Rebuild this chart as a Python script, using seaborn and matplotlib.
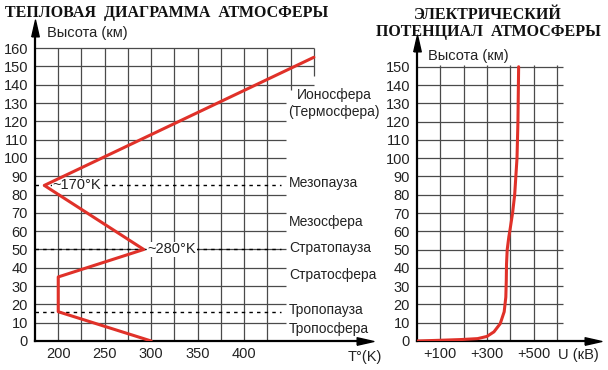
import numpy as np
import pandas as pd
import seaborn as sns
import matplotlib.pyplot as plt

# температурный профиль (К, км)
temp_k = [300, 200, 200, 292, 185, 475]
temp_h = [0, 16, 35, 50, 85, 155]

# электрический потенциал (кВ, км)
pot_h = [0, 0.4, 0.8, 1.3, 2.5, 5, 9.5, 16, 24, 33, 42, 50, 57, 60, 70, 80, 90, 100, 120, 150]
pot_u = [0, 100, 190, 260, 300, 330, 357, 374, 381, 383, 384, 387, 394, 398, 410, 419, 424, 429, 433, 436]

temp_ticks = [200, 250, 300, 350, 400]
temp_h_ticks = list(range(0, 161, 10))
pot_ticks = [100, 300, 500]
pot_tick_labels = ["+100", "+300", "+500"]
pot_h_ticks = list(range(0, 151, 10))

# слои атмосферы: (название, высота)
layers = [("Мезопауза", 86.3), ("Мезосфера", 65), ("Стратопауза", 50.8),
          ("Стратосфера", 36), ("Тропопауза", 17), ("Тропосфера", 6.6)]
pauses = [85, 50, 16]

sns.set_theme(style="white")
plt.rcParams["font.family"] = ["Liberation Sans", "DejaVu Sans"]

W, H = 608, 370
fig = plt.figure(figsize=(W / 100, H / 100), dpi=100)

grid_kw = dict(color="#4a4a4a", lw=0.9, zorder=1)
red = "#e03129"

# вытянутые стрелки на концах осей
up_arrow = [(-0.45, -1), (0.45, -1), (0, 1), (-0.45, -1)]
right_arrow = [(-1, -0.45), (-1, 0.45), (1, 0), (-1, -0.45)]


def px_axes(left, bottom, width, height):
    return fig.add_axes([left / W, bottom / H, width / W, height / H])


def decorate(ax):
    for s in ["top", "right"]:
        ax.spines[s].set_visible(False)
    for s in ["left", "bottom"]:
        ax.spines[s].set_color("black")
        ax.spines[s].set_linewidth(1.6)
    ax.plot(0, 1, marker=up_arrow, color="black", markersize=12, transform=ax.transAxes, clip_on=False)
    ax.plot(1, 0, marker=right_arrow, color="black", markersize=12, transform=ax.transAxes, clip_on=False)
    ax.tick_params(length=0, labelsize=10.5, colors="#222222")
    ax.tick_params(axis="y", pad=5)
    ax.tick_params(axis="x", pad=4)
    ax.set_xlabel("")
    ax.set_ylabel("")


# ---- тепловая диаграмма ----
ax1 = px_axes(35, 29, 330, 313)
ax1.set_xlim(175, 530)
ax1.set_ylim(0, 171)

for h in temp_h_ticks[1:]:
    ax1.hlines(h, 175, 475 if h >= 140 else 445, **grid_kw)
for t in np.arange(200, 426, 25):
    ax1.vlines(t, 0, 160, **grid_kw)
ax1.vlines(450, 137, 160, **grid_kw)
ax1.vlines(475, 145, 160, **grid_kw)

for h in pauses:
    ax1.hlines(h, 175, 440, color="black", lw=1.0, linestyles=(0, (2.5, 3)), zorder=2)

df_t = pd.DataFrame({"T": temp_k, "h": temp_h})
sns.lineplot(data=df_t, x="T", y="h", sort=False, estimator=None, color=red, lw=2.2, ax=ax1, zorder=4)

ax1.set_xticks(temp_ticks)
ax1.set_yticks(temp_h_ticks)
decorate(ax1)

bbox = dict(facecolor="white", edgecolor="none", pad=0.5)
ax1.text(194, 85, "~170°K", fontsize=10.5, va="center", ha="left", color="#222222", bbox=bbox, zorder=3)
ax1.text(296, 50, "~280°K", fontsize=10.5, va="center", ha="left", color="#222222", bbox=bbox, zorder=3)

x_layer = 175 + (289 - 35) / 0.929
for name, h in layers:
    ax1.text(x_layer, h, name, fontsize=10, va="center", ha="left", color="#222222")
x_iono = 175 + (334 - 35) / 0.929
ax1.text(x_iono, 134.4, "Ионосфера", fontsize=10, va="center", ha="center", color="#222222")
ax1.text(x_iono, 125, "(Термосфера)", fontsize=10, va="center", ha="center", color="#222222")

# ---- электрический потенциал ----
ax2 = px_axes(417, 29, 176, 298)
ax2.set_xlim(0, 755)
ax2.set_ylim(0, 163)

for h in pot_h_ticks[1:]:
    ax2.hlines(h, 0, 625, **grid_kw)
for u in range(100, 601, 100):
    ax2.vlines(u, 0, 151, **grid_kw)

df_u = pd.DataFrame({"U": pot_u, "h": pot_h})
sns.lineplot(data=df_u, x="U", y="h", sort=False, estimator=None, color=red, lw=2.2, ax=ax2, zorder=4)

ax2.set_xticks(pot_ticks)
ax2.set_xticklabels(pot_tick_labels)
ax2.set_yticks(pot_h_ticks)
decorate(ax2)

# ---- подписи ----
serif = ["Liberation Serif", "DejaVu Serif"]
fig.text(5 / W, 1 - 13 / H, "ТЕПЛОВАЯ  ДИАГРАММА  АТМОСФЕРЫ", family=serif, weight="bold",
         fontsize=11.5, va="center", ha="left", color="#111111")
fig.text(488 / W, 1 - 15 / H, "ЭЛЕКТРИЧЕСКИЙ", family=serif, weight="bold",
         fontsize=11.5, va="center", ha="center", color="#111111")
fig.text(488 / W, 1 - 32 / H, "ПОТЕНЦИАЛ  АТМОСФЕРЫ", family=serif, weight="bold",
         fontsize=11.5, va="center", ha="center", color="#111111")

fig.text(47 / W, 1 - 33 / H, "Высота (км)", fontsize=10.5, va="center", ha="left", color="#222222")
fig.text(428 / W, 1 - 56 / H, "Высота (км)", fontsize=10.5, va="center", ha="left", color="#222222")
fig.text(348 / W, 1 - 357 / H, "T°(K)", fontsize=10.5, va="center", ha="left", color="#222222")
fig.text(558 / W, 1 - 355 / H, "U (кВ)", fontsize=10.5, va="center", ha="left", color="#222222")

fig.savefig("out.png", dpi=100)
